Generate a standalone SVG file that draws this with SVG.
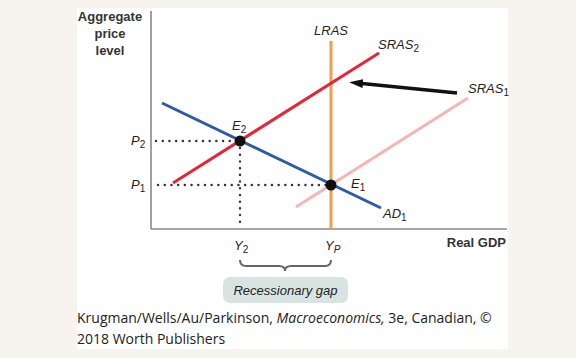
<svg xmlns="http://www.w3.org/2000/svg" width="576" height="358" viewBox="0 0 576 358">
<defs>
<style>
.lbl{font-family:"Liberation Sans",Arial,sans-serif;font-style:italic;font-size:13px;fill:#222}
.sub{font-size:10px;font-style:normal}
.subi{font-size:10px;font-style:italic}
.bold{font-family:"Liberation Sans",Arial,sans-serif;font-weight:bold;font-size:13px;fill:#333}
.cap{font-family:"Open Sans","Liberation Sans",sans-serif;font-size:14px;fill:#222}
.dot{stroke:#333;stroke-width:2.4;stroke-dasharray:0.1 6.6;stroke-linecap:round;fill:none}
.curve{stroke-width:3;fill:none}
</style>
<marker id="ah" markerWidth="14" markerHeight="10" refX="1" refY="5" orient="auto" markerUnits="userSpaceOnUse">
<path d="M0,0.5 L14,5 L0,9.5 Z" fill="#111"/>
</marker>
</defs>
<rect x="0" y="0" width="576" height="358" fill="#f7f4ee"/>
<rect x="77" y="8" width="431" height="341" fill="#ffffff"/>

<g id="axes">
<line x1="151" y1="11" x2="151" y2="229" stroke="#888" stroke-width="1.6"/>
<line x1="151" y1="229" x2="507" y2="229" stroke="#888" stroke-width="1.6"/>
<text class="bold" text-anchor="middle"><tspan x="110" y="21">Aggregate</tspan><tspan x="110" y="38">price</tspan><tspan x="110" y="55">level</tspan></text>
<text class="bold" x="506" y="247" text-anchor="end">Real GDP</text>
</g>

<g id="guides">
<line class="dot" x1="156" y1="141" x2="236" y2="141"/>
<line class="dot" x1="158" y1="185" x2="326" y2="185"/>
<line class="dot" x1="240" y1="148" x2="240" y2="227"/>
</g>

<g id="SRAS1">
<line class="curve" x1="296" y1="207" x2="468" y2="98" stroke="#f5b5b5"/>
<text class="lbl" x="468" y="93">SRAS<tspan class="sub" dy="3">1</tspan></text>
</g>
<g id="LRAS">
<line x1="331" y1="41" x2="331" y2="229" stroke="#ef9d4e" stroke-width="3"/>
<text class="lbl" x="331" y="35" text-anchor="middle">LRAS</text>
</g>
<g id="SRAS2">
<line class="curve" x1="173" y1="183" x2="379" y2="53" stroke="#e0283a"/>
<text class="lbl" x="378" y="49">SRAS<tspan class="sub" dy="3">2</tspan></text>
</g>
<g id="AD1">
<line class="curve" x1="162" y1="103" x2="381" y2="208" stroke="#2f5aa8"/>
<text class="lbl" x="383" y="218">AD<tspan class="sub" dy="3">1</tspan></text>
</g>

<g id="connectors">
<line x1="457" y1="93" x2="362" y2="83.5" stroke="#111" stroke-width="3.5" marker-end="url(#ah)"/>
</g>

<g id="E2">
<circle cx="240" cy="141" r="5.5" fill="#111"/>
<text class="lbl" x="232" y="130">E<tspan class="sub" dy="3">2</tspan></text>
</g>
<g id="E1">
<circle cx="331" cy="185" r="5.5" fill="#111"/>
<text class="lbl" x="351" y="188">E<tspan class="sub" dy="3">1</tspan></text>
</g>

<g id="ticks">
<text class="lbl" x="131" y="145">P<tspan class="sub" dy="3">2</tspan></text>
<text class="lbl" x="131" y="189">P<tspan class="sub" dy="3">1</tspan></text>
<text class="lbl" x="234" y="250">Y<tspan class="sub" dy="3">2</tspan></text>
<text class="lbl" x="325" y="250">Y<tspan class="subi" dy="3">P</tspan></text>
</g>

<g id="gap">
<path d="M240,260 Q240,266 246,266 L279,266 Q285,266 285,271 Q285,266 291,266 L325,266 Q331,266 331,260" fill="none" stroke="#666" stroke-width="2"/>
<rect x="223" y="277" width="125" height="26" rx="7" fill="#d8e4e2"/>
<text class="lbl" x="285.5" y="295" text-anchor="middle">Recessionary gap</text>
</g>

<g id="caption">
<text class="cap" x="77" y="323">Krugman/Wells/Au/Parkinson, <tspan font-style="italic">Macroeconomics,</tspan> 3e, Canadian, ©</text>
<text class="cap" x="77" y="344">2018 Worth Publishers</text>
</g>
</svg>
